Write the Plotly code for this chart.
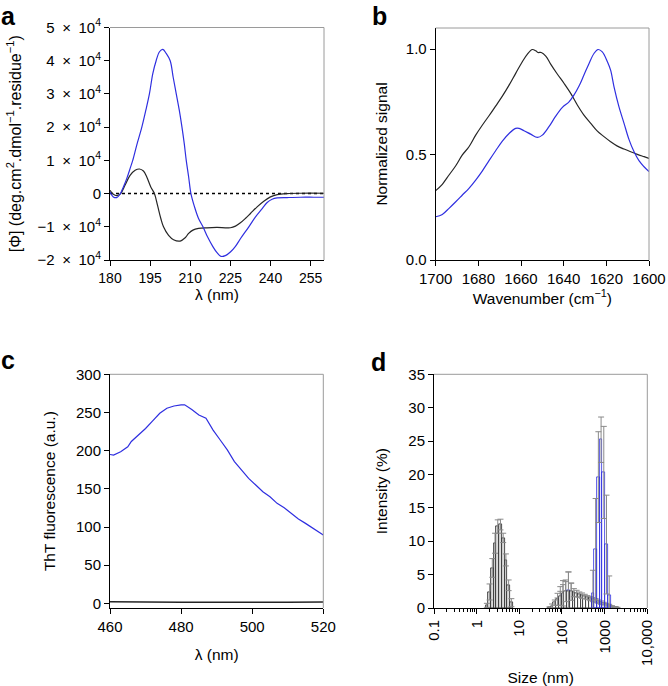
import numpy as np
import plotly.graph_objects as go

# ---------------- Panel a: CD spectra ([Φ] in units of 10^4 deg.cm2.dmol-1.residue-1)
cd_wl_blue = [180.0, 181.25, 182.5, 183.75, 185.0, 186.25, 187.5, 188.5, 190.0, 191.9, 193.4,
              194.75, 196.0, 197.25, 198.5, 199.75, 201.0, 202.5, 203.6, 204.75, 205.9, 206.9,
              207.75, 208.5, 209.4, 210.25, 211.6, 213.1, 214.75, 216.5, 218.4, 220.0, 221.5,
              223.1, 225.0, 226.9, 228.75, 231.9, 234.4, 236.9, 238.75, 240.6, 242.5, 246.25,
              251.25, 256.25, 260.25]
cd_blue = [0.05, -0.10, -0.12, -0.02, 0.20, 0.45, 0.75, 1.00, 1.46, 2.00, 2.51,
           3.01, 3.61, 4.00, 4.27, 4.34, 4.22, 4.00, 3.51, 3.01, 2.51, 2.00,
           1.51, 1.00, 0.50, 0.00, -0.40, -0.75, -1.00, -1.31, -1.59, -1.78, -1.89,
           -1.87, -1.76, -1.59, -1.36, -1.00, -0.70, -0.45, -0.27, -0.17, -0.13, -0.12,
           -0.11, -0.11, -0.11]
cd_wl_black = [180.0, 181.25, 182.5, 184.0, 185.6, 187.5, 189.4, 191.0, 192.5, 193.75, 195.25,
               196.6, 197.75, 199.0, 200.0, 201.9, 203.75, 206.25, 208.1, 209.4, 211.0, 213.1,
               216.25, 220.0, 223.1, 225.0, 226.9, 228.75, 230.6, 232.5, 235.0, 237.5, 240.0,
               242.5, 246.25, 251.25, 260.25]
cd_black = [0.10, -0.02, -0.06, 0.00, 0.25, 0.55, 0.70, 0.74, 0.68, 0.50, 0.20,
            0.00, -0.35, -0.75, -1.00, -1.26, -1.39, -1.43, -1.33, -1.20, -1.10, -1.05,
            -1.03, -1.02, -1.03, -1.03, -0.98, -0.88, -0.75, -0.60, -0.40, -0.23, -0.10,
            -0.03, 0.00, 0.01, 0.01]
cd_yticks = [-2, -1, 0, 1, 2, 3, 4, 5]
cd_yticktext = ["\u22122\u2002\u00d7\u200210<sup>4</sup>", "\u22121\u2002\u00d7\u200210<sup>4</sup>", "0",
                "1\u2002\u00d7\u200210<sup>4</sup>", "2\u2002\u00d7\u200210<sup>4</sup>",
                "3\u2002\u00d7\u200210<sup>4</sup>", "4\u2002\u00d7\u200210<sup>4</sup>",
                "5\u2002\u00d7\u200210<sup>4</sup>"]
cd_xticks = [180, 195, 210, 225, 240, 255]

# ---------------- Panel b: FTIR amide I
ir_wn = [1700, 1696.9, 1693.75, 1690.6, 1687.5, 1684.4, 1681.25, 1678.1, 1675, 1671.9, 1668.75,
         1665.6, 1662.5, 1659.4, 1657, 1654.7, 1653.1, 1652, 1650.5, 1648.4, 1646.1, 1643,
         1639.8, 1636.7, 1633.6, 1630.5, 1627.3, 1624.2, 1621.1, 1618, 1614.8, 1611.7, 1608.6,
         1605.5, 1602.3, 1600]
ir_black = [0.329, 0.359, 0.403, 0.447, 0.498, 0.537, 0.592, 0.640, 0.684, 0.730, 0.777,
            0.829, 0.885, 0.940, 0.976, 0.998, 0.992, 0.984, 0.984, 0.967, 0.929, 0.882,
            0.837, 0.790, 0.735, 0.687, 0.648, 0.611, 0.585, 0.561, 0.540, 0.526, 0.513,
            0.501, 0.490, 0.482]
ir_wn_blue = [1700, 1696.9, 1693.75, 1690.6, 1687.5, 1684.4, 1681.25, 1678.1, 1675, 1671.9,
              1668.75, 1665.6, 1662.5, 1660.9, 1658.6, 1655.5, 1652.3, 1650, 1646.9, 1643.75,
              1640.6, 1637.5, 1635.2, 1632.8, 1630.5, 1628.1, 1625.8, 1623.9, 1621.9, 1619.5,
              1618, 1616.4, 1614.1, 1611.7, 1609.4, 1607, 1604.7, 1602.3, 1600]
ir_blue = [0.205, 0.216, 0.245, 0.276, 0.308, 0.340, 0.379, 0.423, 0.471, 0.518,
           0.564, 0.600, 0.624, 0.624, 0.613, 0.597, 0.581, 0.592, 0.632, 0.682,
           0.724, 0.750, 0.782, 0.825, 0.877, 0.932, 0.979, 0.998, 0.987, 0.940,
           0.900, 0.821, 0.727, 0.648, 0.572, 0.513, 0.471, 0.442, 0.419]
ir_xticks = [1700, 1680, 1660, 1640, 1620, 1600]
ir_yticks = [0.0, 0.5, 1.0]
ir_yticktext = ["0.0", "0.5", "1.0"]

# ---------------- Panel c: ThT fluorescence
tht_wl = [460, 461, 463, 465, 466, 468, 470, 472, 474, 476, 478, 480, 481, 483, 485, 487, 489,
          491, 493, 495, 497, 499, 501, 503, 505, 507, 509, 511, 513, 515, 517, 519, 520]
tht_blue = [195, 194.3, 198.7, 205, 212, 220.5, 229, 239, 249, 255.5, 258.5, 260, 260, 254,
            246.7, 242.4, 227, 214, 201, 185.6, 174.7, 163.8, 155, 146.3, 139.7, 131, 125.3,
            118, 110.5, 104.8, 98.3, 92.6, 89.5]
tht_wl_black = [460, 470, 480, 490, 500, 510, 520]
tht_black = [2.2, 1.8, 1.5, 1.4, 1.4, 1.6, 2.0]

# ---------------- Panel d: DLS intensity distributions
dls_gray_size = [1.736, 2.010, 2.328, 2.696, 3.122, 3.615, 4.187, 4.849, 5.615, 6.503]
dls_gray_int = [0.4, 2.4, 6.0, 9.7, 12.2, 12.5, 10.5, 7.2, 3.4, 0.8]
dls_gray_err = [0.3, 1.2, 1.4, 1.5, 1.0, 0.8, 0.7, 0.9, 0.8, 0.6]

dls_black_size = [50.75, 58.77, 68.06, 78.82, 91.28, 105.7, 122.4, 141.8, 164.2, 190.1, 220.2,
                  255.0, 295.3, 342.0, 396.1, 458.7, 531.2, 615.1, 712.4, 825.0, 955.4, 1106,
                  1281, 1484, 1718, 1990]
dls_black_int = [0.05, 0.3, 0.8, 1.3, 1.8, 2.2, 2.45, 2.5, 2.45, 2.3, 2.15, 2.0, 1.85, 1.7,
                 1.55, 1.4, 1.25, 1.1, 0.95, 0.8, 0.65, 0.5, 0.4, 0.25, 0.12, 0.05]
dls_black_err = [0.1, 0.3, 0.4, 0.9, 1.4, 1.9, 1.5, 2.9, 1.3, 0.6, 0.5, 0.4, 0.4, 0.35, 0.3,
                 0.3, 0.3, 0.3, 0.25, 0.25, 0.2, 0.2, 0.15, 0.1, 0.1, 0.05]

dls_blue_size = [68.06, 78.82, 91.28, 105.7, 122.4, 141.8, 164.2, 190.1, 531.2, 615.1, 712.4,
                 825.0, 955.4, 1106, 1281]
dls_blue_int = [0.3, 0.9, 1.5, 2.0, 2.4, 2.6, 2.2, 1.2, 2.15, 8.8, 19.6, 25.2, 20.3, 9.5, 1.9]
dls_blue_err = [0.3, 0.6, 1.0, 1.5, 1.8, 2.8, 1.5, 0.8, 3.5, 7.6, 6.8, 3.4, 6.9, 7.4, 2.9]

dls_xticks = [0.1, 1, 10, 100, 1000, 10000]
dls_xticktext = ["0.1", "1", "10", "100", "1000", "10,000"]

# ---------------- styles / geometry (page pixels)
BLUE = "#2f2fe0"
BLACK = "#262626"
ERR = "#8a8a8a"
FONT = "Liberation Sans, Arial, sans-serif"
W, H = 668, 686


def px(x):
    return x / W


def py(y):
    return 1 - y / H


def dom_x(a, b):
    return [px(a), px(b)]


def dom_y(top, bottom):
    return [py(bottom), py(top)]


def ax(**kw):
    base = dict(showline=True, linecolor="black", linewidth=1, ticks="outside", ticklen=5,
                tickwidth=1, tickcolor="black", showgrid=False, zeroline=False, automargin=False,
                tickfont=dict(size=15, color="black", family=FONT),
                title_font=dict(size=15.5, color="black", family=FONT))
    base.update(kw)
    return base


fig = go.Figure()

# a
fig.add_trace(go.Scatter(x=cd_wl_black, y=cd_black, mode="lines", line=dict(color=BLACK, width=1.2, shape="spline"),
                         xaxis="x", yaxis="y", showlegend=False))
fig.add_trace(go.Scatter(x=cd_wl_blue, y=cd_blue, mode="lines", line=dict(color=BLUE, width=1.2, shape="spline"),
                         xaxis="x", yaxis="y", showlegend=False))
# b
fig.add_trace(go.Scatter(x=ir_wn, y=ir_black, mode="lines", line=dict(color=BLACK, width=1.2, shape="spline"),
                         xaxis="x2", yaxis="y2", showlegend=False))
fig.add_trace(go.Scatter(x=ir_wn_blue, y=ir_blue, mode="lines", line=dict(color=BLUE, width=1.2, shape="spline"),
                         xaxis="x2", yaxis="y2", showlegend=False))
# c
fig.add_trace(go.Scatter(x=tht_wl, y=tht_blue, mode="lines", line=dict(color=BLUE, width=1.2),
                         xaxis="x3", yaxis="y3", showlegend=False))
fig.add_trace(go.Scatter(x=tht_wl_black, y=tht_black, mode="lines", line=dict(color=BLACK, width=1.5, shape="spline"),
                         xaxis="x3", yaxis="y3", showlegend=False))

# d (log10 of size on a linear axis, Zetasizer bin width)
BW = 0.0637
bs = np.array(dls_blue_size)
bi = np.array(dls_blue_int)
be = np.array(dls_blue_err)
small = bs < 400


def bars(size, inten, err, fill, line):
    return go.Bar(x=np.log10(size), y=inten, width=BW, marker=dict(color=fill, line=dict(color=line, width=0.8)),
                  error_y=dict(type="data", array=err, color=ERR, thickness=1, width=3),
                  xaxis="x4", yaxis="y4", showlegend=False)


fig.add_trace(bars(dls_gray_size, dls_gray_int, dls_gray_err, "#dcdcdc", BLACK))
fig.add_trace(bars(bs[small], bi[small], be[small], "rgba(255,255,255,0)", BLUE))
fig.add_trace(bars(dls_black_size, dls_black_int, dls_black_err, "#ffffff", BLACK))
fig.add_trace(bars(bs[~small], bi[~small], be[~small], "rgba(255,255,255,0)", BLUE))

minor_vals = [np.log10(k * 10.0 ** d) for d in range(-1, 4) for k in range(2, 10)]

fig.update_layout(
    width=W, height=H, margin=dict(l=0, r=0, t=0, b=0, autoexpand=False),
    paper_bgcolor="white", plot_bgcolor="white",
    font=dict(family=FONT, color="black"),
    barmode="overlay", bargap=0,
    xaxis=ax(domain=dom_x(110, 324), anchor="y", range=[180, 260], tickvals=cd_xticks,
             tickfont=dict(size=14, color="black", family=FONT),
             title=dict(text="\u03bb (nm)", standoff=4)),
    yaxis=ax(domain=dom_y(27.5, 260), anchor="x", range=[-2, 5], tickvals=cd_yticks, ticktext=cd_yticktext,
             tickfont=dict(size=15, color="black", family=FONT),
             title=dict(text="[\u03a6] (deg.cm<sup>2</sup>.dmol<sup>\u22121</sup>.residue<sup>\u22121</sup>)",
                        standoff=12, font=dict(size=16, color="black", family=FONT))),
    xaxis2=ax(domain=dom_x(435.7, 649), anchor="y2", range=[1700, 1600], tickvals=ir_xticks,
              title=dict(text="Wavenumber (cm<sup>\u22121</sup>)", standoff=4)),
    yaxis2=ax(domain=dom_y(28, 260), anchor="x2", range=[0, 1.1], tickvals=ir_yticks, ticktext=ir_yticktext,
              title=dict(text="Normalized signal", standoff=14)),
    xaxis3=ax(domain=dom_x(110, 323.3), anchor="y3", range=[460, 520], tickvals=[460, 480, 500, 520],
              title=dict(text="\u03bb (nm)", standoff=15)),
    yaxis3=ax(domain=dom_y(374.3, 608), anchor="x3", range=[-6, 300], tickvals=[0, 50, 100, 150, 200, 250, 300],
              title=dict(text="ThT fluorescence (a.u.)", standoff=16)),
    xaxis4=ax(domain=dom_x(434, 647.3), anchor="y4", range=[-1, 4], tickvals=np.log10(dls_xticks),
              ticktext=dls_xticktext, tickangle=-90,
              minor=dict(tickvals=minor_vals, ticks="outside", ticklen=3, tickcolor="black"),
              title=dict(text="Size (nm)", standoff=7)),
    yaxis4=ax(domain=dom_y(374.3, 608), anchor="x4", range=[0, 35], tickvals=list(range(0, 40, 5)),
              title=dict(text="Intensity (%)", standoff=16)),
)

shapes = []
for xa, ya in [("x", "y"), ("x2", "y2"), ("x3", "y3"), ("x4", "y4")]:
    shapes.append(dict(type="line", xref=f"{xa} domain", yref=f"{ya} domain", x0=0, x1=1, y0=1, y1=1,
                       line=dict(color="#9a9a9a", width=1)))
    shapes.append(dict(type="line", xref=f"{xa} domain", yref=f"{ya} domain", x0=1, x1=1, y0=0, y1=1,
                       line=dict(color="#9a9a9a", width=1)))
shapes.append(dict(type="line", xref="x domain", yref="y", x0=0, x1=1, y0=0, y1=0,
                   line=dict(color="black", width=1.5, dash="dot"), layer="below"))
fig.update_layout(shapes=shapes)

for lab, x, y in [("a", 0, 16), ("b", 370.5, 16), ("c", 0, 360), ("d", 369.5, 361.5)]:
    fig.add_annotation(text=f"<b>{lab}</b>", xref="paper", yref="paper", x=px(x), y=py(y),
                       xanchor="left", yanchor="middle", showarrow=False, borderpad=0,
                       font=dict(size=25, color="black", family=FONT))

fig.write_html("out.html", config={"displayModeBar": False},
               post_script="document.body.style.margin='0px';")
